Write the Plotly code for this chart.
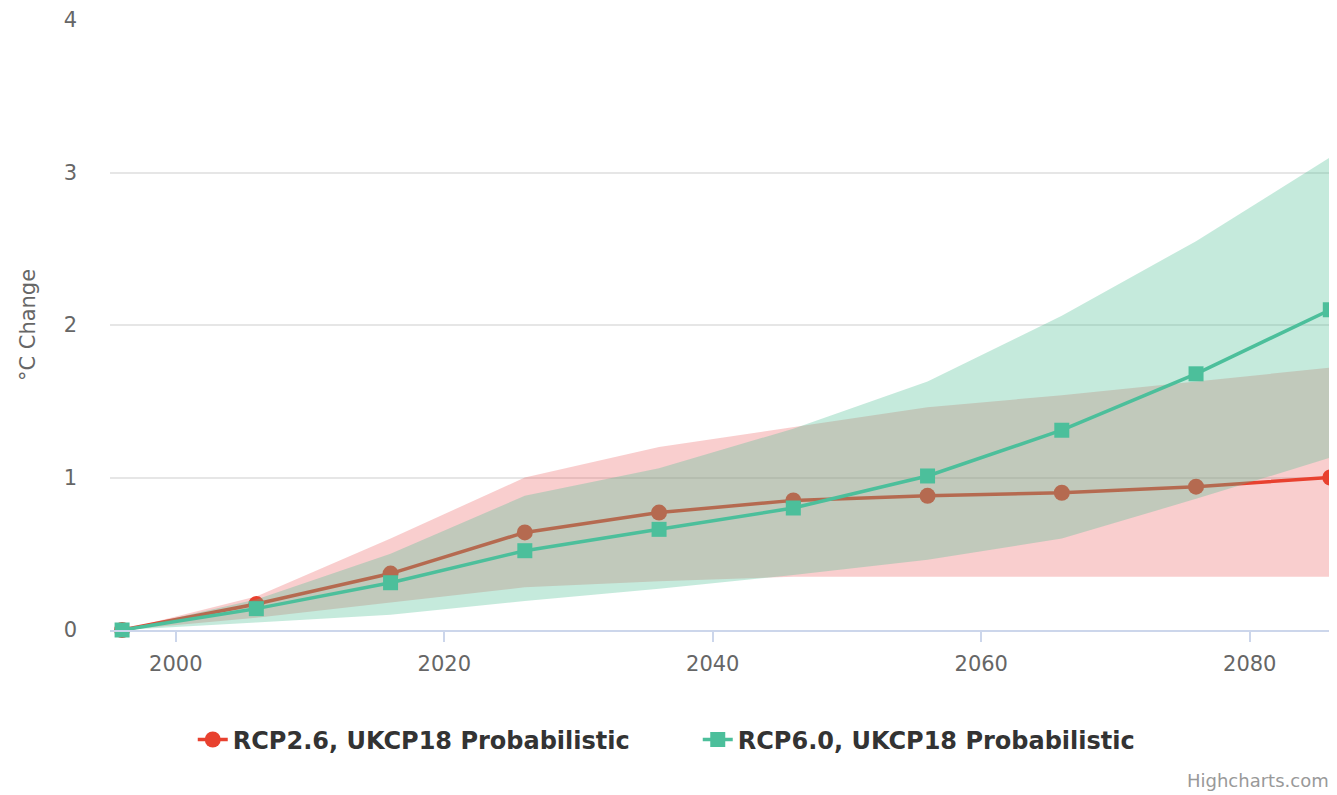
import plotly.graph_objects as go

years = [1996, 2006, 2016, 2026, 2036, 2046, 2056, 2066, 2076, 2086]

rcp26_median = [0.0, 0.17, 0.37, 0.64, 0.77, 0.85, 0.88, 0.90, 0.94, 1.00]
rcp26_low = [0.0, 0.08, 0.18, 0.28, 0.32, 0.35, 0.35, 0.35, 0.35, 0.35]
rcp26_high = [0.0, 0.22, 0.60, 1.00, 1.20, 1.33, 1.46, 1.54, 1.63, 1.72]

rcp60_median = [0.0, 0.14, 0.31, 0.52, 0.66, 0.80, 1.01, 1.31, 1.68, 2.10]
rcp60_low = [0.0, 0.05, 0.10, 0.19, 0.27, 0.36, 0.46, 0.60, 0.86, 1.13]
rcp60_high = [0.0, 0.20, 0.50, 0.88, 1.06, 1.32, 1.63, 2.06, 2.55, 3.10]

y_ticks = [0, 1, 2, 3, 4]
x_ticks = [2000, 2020, 2040, 2060, 2080]

name26 = "RCP2.6, UKCP18 Probabilistic"
name60 = "RCP6.0, UKCP18 Probabilistic"

RED = "#e8412f"
GREEN = "#4cbf9b"
RED_BAND = "rgba(235,80,80,0.28)"
GREEN_BAND = "rgba(80,190,150,0.33)"
FONT = "DejaVu Sans, Verdana, sans-serif"

fig = go.Figure()

fig.add_trace(go.Scatter(
    x=years + years[::-1], y=rcp26_high + rcp26_low[::-1],
    fill="toself", fillcolor=RED_BAND, line=dict(width=0),
    mode="lines", hoverinfo="skip", showlegend=False))
fig.add_trace(go.Scatter(
    x=years, y=rcp26_median, name=name26, mode="lines+markers",
    line=dict(color=RED, width=3.5), marker=dict(symbol="circle", size=16, color=RED),
    cliponaxis=False))
fig.add_trace(go.Scatter(
    x=years + years[::-1], y=rcp60_high + rcp60_low[::-1],
    fill="toself", fillcolor=GREEN_BAND, line=dict(width=0),
    mode="lines", hoverinfo="skip", showlegend=False))
fig.add_trace(go.Scatter(
    x=years, y=rcp60_median, name=name60, mode="lines+markers",
    line=dict(color=GREEN, width=3.5), marker=dict(symbol="square", size=15, color=GREEN),
    cliponaxis=False))

fig.update_layout(
    width=1329, height=787,
    margin=dict(l=102, r=0, t=12, b=165),
    paper_bgcolor="white", plot_bgcolor="white",
    font=dict(family=FONT, color="#666666", size=21),
    showlegend=True,
    legend=dict(
        orientation="h", xref="container", yref="container",
        x=0.519, xanchor="center", y=0.070, yanchor="middle",
        font=dict(size=24, color="#333333", family=FONT, weight="bold"),
        entrywidth=460, entrywidthmode="pixels",
    ),
    xaxis=dict(
        range=[1995.1, 2086.5], tickvals=x_ticks, ticktext=[str(v) for v in x_ticks],
        showgrid=False, zeroline=False,
        showline=True, linecolor="#ccd6eb", linewidth=1.5,
        ticks="outside", ticklen=10, tickcolor="#ccd6eb", tickwidth=1.5,
        ticklabelstandoff=4,
        tickfont=dict(size=21, color="#666666"),
    ),
    yaxis=dict(
        range=[0, 4], tickvals=y_ticks, ticktext=[str(v) for v in y_ticks],
        showgrid=True, gridcolor="#e6e6e6", gridwidth=1.5, zeroline=False,
        showline=False, ticks="",
        ticklabelstandoff=32,
        tickfont=dict(size=21, color="#666666"),
        title=dict(text="°C Change", font=dict(size=21, color="#666666"), standoff=22),
    ),
)

fig.add_annotation(
    text="Highcharts.com", xref="paper", yref="paper",
    x=0.876, y=-0.246, xanchor="left", yanchor="middle", showarrow=False,
    font=dict(size=18, color="#999999"))

fig.write_html("out.html")
